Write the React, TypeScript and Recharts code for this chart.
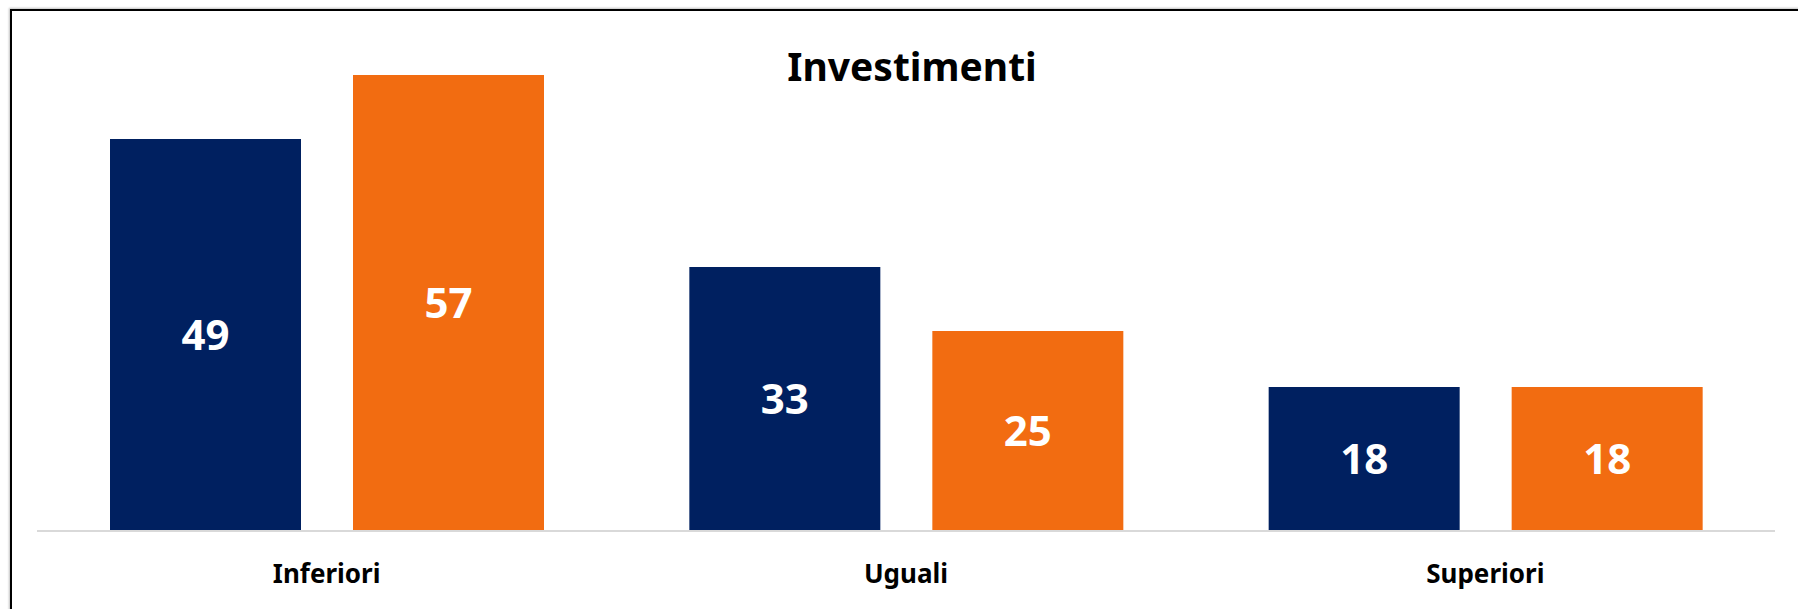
import React from 'react';
import { BarChart, Bar, XAxis, YAxis, LabelList } from 'recharts';

const categories = ['Inferiori', 'Uguali', 'Superiori'];
const seriesA = [49, 33, 18];
const seriesB = [57, 25, 18];
const title = 'Investimenti';

const data = categories.map((c, i) => ({ name: c, a: seriesA[i], b: seriesB[i] }));

const FONT = '"Noto Sans", "Open Sans", sans-serif';

const Tick = (props: any) => {
  const { x, y, payload } = props;
  return (
    <text x={x} y={y} dy={44} textAnchor="middle" fontFamily={FONT} fontWeight={700} fontSize={26} fill="#000">
      {payload.value}
    </text>
  );
};

export default function App() {
  return (
    <div style={{ position: 'absolute', left: 0, top: 0, width: 1798, height: 609, background: '#fff', overflow: 'hidden' }}>
      <div
        style={{
          position: 'absolute',
          left: 10,
          top: 9,
          width: 1800,
          height: 620,
          borderTop: '2px solid #000',
          borderLeft: '2px solid #000',
          boxShadow: '-1px -1px 2px rgba(0,0,0,0.25)',
        }}
      />
      <div
        style={{
          position: 'absolute',
          left: 0,
          width: 1824,
          top: 40,
          textAlign: 'center',
          fontFamily: FONT,
          fontWeight: 700,
          fontSize: 39,
          lineHeight: '52px',
          color: '#000',
        }}
      >
        {title}
      </div>
      <div style={{ position: 'absolute', left: 0, top: 0 }}>
        <BarChart
          width={1798}
          height={609}
          data={data}
          margin={{ top: 51, right: 23, bottom: 0, left: 37 }}
          barSize={191}
          barGap={52}
        >
          <XAxis
            dataKey="name"
            height={78}
            axisLine={{ stroke: '#d9d9d9', strokeWidth: 2 }}
            tickLine={false}
            tick={<Tick />}
            interval={0}
          />
          <YAxis hide domain={[0, 60]} />
          <Bar dataKey="a" fill="#002060" isAnimationActive={false}>
            <LabelList dataKey="a" position="center" fill="#fff" fontSize={42} fontWeight={700} fontFamily={FONT} />
          </Bar>
          <Bar dataKey="b" fill="#F26C11" isAnimationActive={false}>
            <LabelList dataKey="b" position="center" fill="#fff" fontSize={42} fontWeight={700} fontFamily={FONT} />
          </Bar>
        </BarChart>
      </div>
    </div>
  );
}
